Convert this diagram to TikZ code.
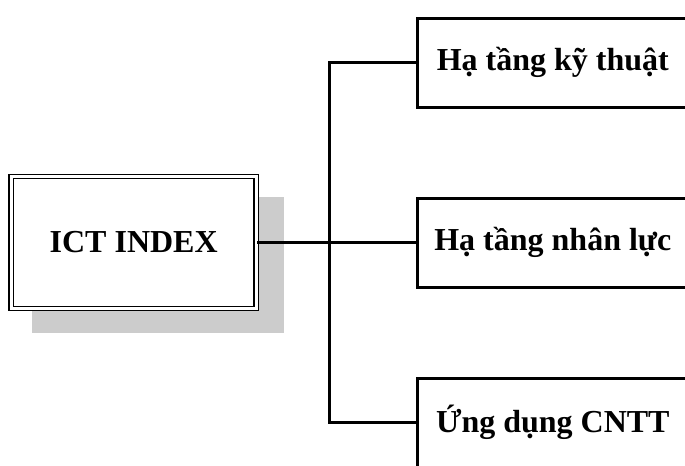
\documentclass[tikz,border=0pt]{standalone}
\usepackage{fontspec}
\setmainfont{Liberation Serif}
\usetikzlibrary{positioning, shadows}
\tikzset{
  mainbox/.style={draw, double, line width=1.1pt, double distance=2.2pt, fill=white,
                  minimum width=184pt, minimum height=99pt,
                  font=\bfseries\fontsize{24}{28}\selectfont,
                  drop shadow={shadow xshift=17.8pt, shadow yshift=-16.6pt,
                               shadow scale=1.03, fill=black!20, opacity=1}},
  itembox/.style={draw, line width=2.25pt, fill=white, minimum width=203pt,
                  minimum height=66.75pt, font=\bfseries\fontsize{24}{28}\selectfont},
  link/.style={line width=2.25pt},
}

\begin{document}
\begin{tikzpicture}[x=0.75pt, y=-0.75pt, node distance=66pt]
  \path[use as bounding box, clip] (0,0) rectangle (685,465);
  \node[mainbox] (ict) at (133.7,242.5) {ICT INDEX};
  \node[itembox, anchor=west] (nhanluc) at (416,242.5) {Hạ tầng nhân lực};
  \node[itembox, above=of nhanluc] (kythuat) {Hạ tầng kỹ thuật};
  \node[itembox, below=of nhanluc] (ungdung) {Ứng dụng CNTT};
  \coordinate (hub) at (329,242.5);
  \draw[link] (ict.east) -- (hub) -- (nhanluc.west);
  \draw[link] (kythuat.west) -| (hub) |- (ungdung.west);
\end{tikzpicture}
\end{document}
